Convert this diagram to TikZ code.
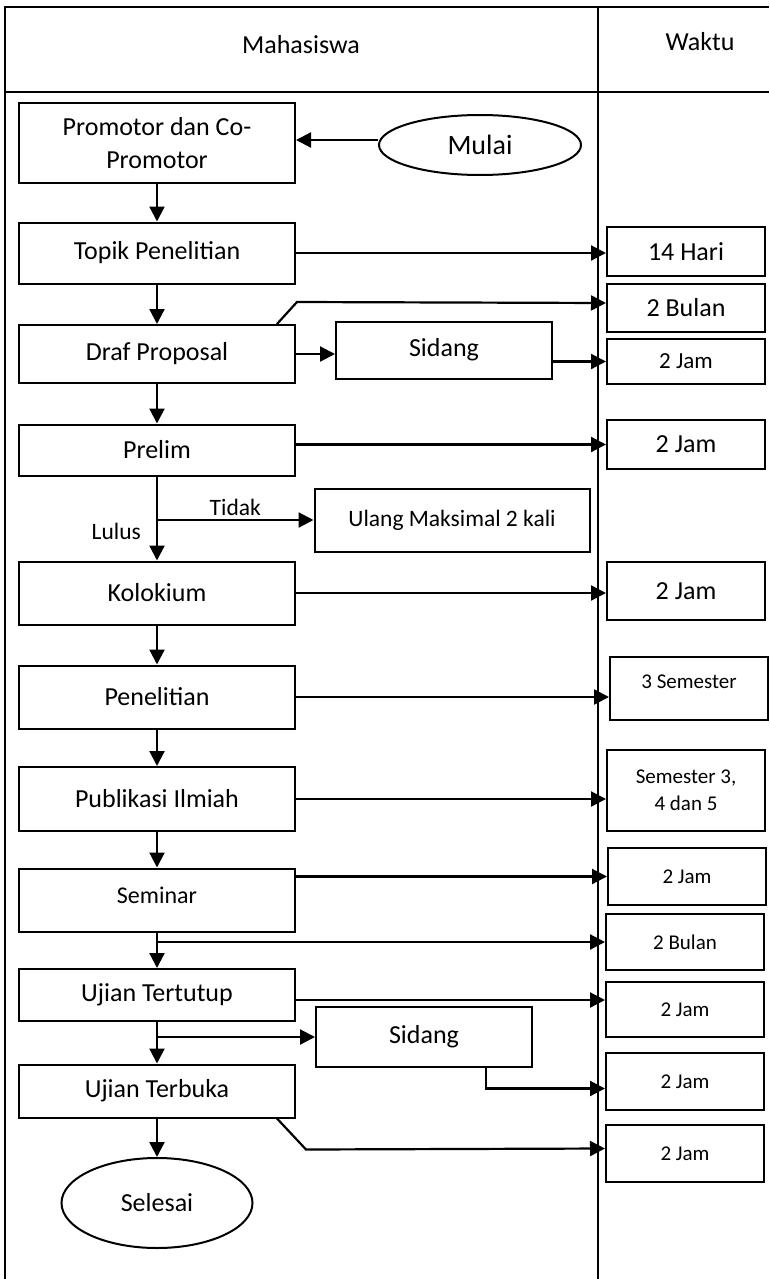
\documentclass[tikz,border=0pt]{standalone}
\usepackage{fontspec}
\setmainfont{Carlito}
\usetikzlibrary{arrows.meta,shapes.geometric}

\begin{document}
\begin{tikzpicture}[
    x=1pt, y=-1pt,
    besar/.style={font=\fontsize{26}{33}\selectfont},
    sedang/.style={font=\fontsize{23.5}{28}\selectfont},
    kecil/.style={font=\fontsize{21}{27}\selectfont},
    proses/.style={rectangle, draw, line width=2pt, inner sep=0pt, minimum width=276pt, align=center, besar},
    waktu/.style={rectangle, draw, line width=2pt, inner sep=0pt, minimum width=158pt, align=center, kecil},
    ujung/.style={ellipse, draw, line width=2pt, inner sep=0pt, besar},
    arrow/.style={draw, -{Triangle[length=15pt,width=15pt]}, line width=2.2pt},
    garis/.style={line width=1.8pt}
]
    \useasboundingbox (0,0) rectangle (769,1279);

    % kolom
    \draw[garis] (5,1279) -- (5,7) -- (769,7);
    \draw[garis] (5,92) -- (769,92);
    \draw[garis] (598,7) -- (598,1279);
    \node[besar] (mahasiswa) at (301,45) {Mahasiswa};
    \node[besar] (waktu) at (700,42) {Waktu};

    % mahasiswa
    \node[proses, minimum height=80pt] (promotor) at (157,143) {Promotor dan Co-\\Promotor};
    \node[ujung, minimum width=202pt, minimum height=60pt, font=\fontsize{28}{33}\selectfont] (mulai) at (480,145) {Mulai};
    \node[proses, minimum height=61pt] (topik) at (157,253) {Topik Penelitian};
    \node[proses, minimum height=58pt] (draf) at (157,354) {Draf Proposal};
    \node[proses, minimum width=216pt, minimum height=57pt] (sidang) at (444,350) {Sidang};
    \node[proses, minimum height=51pt] (prelim) at (157,450) {Prelim};
    \node[proses, minimum width=275pt, minimum height=63pt, sedang] (ulang) at (452,520) {Ulang Maksimal 2 kali};
    \node[proses, minimum height=63pt] (kolokium) at (157,593) {Kolokium};
    \node[proses, minimum height=63pt] (penelitian) at (157,697) {Penelitian};
    \node[proses, minimum height=64pt] (publikasi) at (157,799) {Publikasi Ilmiah};
    \node[proses, minimum height=63pt, text depth=10pt, font=\fontsize{24}{29}\selectfont] (seminar) at (157,900) {Seminar};
    \node[proses, minimum height=52pt] (tertutup) at (157,995) {Ujian Tertutup};
    \node[proses, minimum width=216pt, minimum height=60pt] (sidangb) at (424,1037) {Sidang};
    \node[proses, minimum height=53pt] (terbuka) at (157,1091) {Ujian Terbuka};
    \node[ujung, minimum width=191pt, minimum height=90pt] (selesai) at (157,1203) {Selesai};

    % waktu
    \node[waktu, minimum height=49pt, besar] (w1) at (686,251.5) {14 Hari};
    \node[waktu, minimum height=48pt, besar] (w2) at (686,308) {2 Bulan};
    \node[waktu, minimum height=45pt, font=\fontsize{23}{28}\selectfont] (w3) at (686,361.5) {2 Jam};
    \node[waktu, minimum height=49pt, besar] (w4) at (686,444.5) {2 Jam};
    \node[waktu, minimum height=58pt, besar] (w5) at (686,591) {2 Jam};
    \node[waktu, minimum height=63pt, text depth=13pt] (w6) at (689,688.5) {3 Semester};
    \node[waktu, minimum height=81pt] (w7) at (686,790.5) {Semester 3,\\4 dan 5};
    \node[waktu, minimum height=57pt] (w8) at (687,876.5) {2 Jam};
    \node[waktu, minimum height=56pt] (w9) at (685,942) {2 Bulan};
    \node[waktu, minimum height=55pt] (w10) at (685,1009.5) {2 Jam};
    \node[waktu, minimum height=57pt] (w11) at (685,1081.5) {2 Jam};
    \node[waktu, minimum height=57pt] (w12) at (685,1153.5) {2 Jam};

    % alur
    \draw[arrow] ([yshift=5pt]mulai.west) -- ([yshift=5pt]mulai.west -| promotor.east);
    \draw[arrow] (promotor.south) -- (topik.north);
    \draw[arrow] (topik.east) -- (topik.east -| w1.west);
    \draw[arrow] (topik.south) -- (draf.north);
    \draw[arrow] ([xshift=-19pt]draf.north east) -- ++(20,-22) -- ([yshift=5pt]w2.west);
    \draw[arrow] (draf.east) -- (draf.east -| sidang.west);
    \draw[arrow] (sidang.east |- w3.west) -- (w3.west);
    \draw[arrow] (draf.south) -- (prelim.north);
    \draw[arrow] (prelim.east |- w4.west) -- (w4.west);
    \draw[arrow] (prelim.south) -- (kolokium.north) node[pos=0.65, left, sedang, inner xsep=15pt] {Lulus};
    \draw[arrow] (prelim.south |- ulang.west) -- (ulang.west) node[midway, above, sedang] {Tidak};
    \draw[arrow] (kolokium.east) -- (kolokium.east -| w5.west);
    \draw[arrow] (kolokium.south) -- (penelitian.north);
    \draw[arrow] (penelitian.east) -- (penelitian.east -| w6.west);
    \draw[arrow] (penelitian.south) -- (publikasi.north);
    \draw[arrow] (publikasi.east) -- (publikasi.east -| w7.west);
    \draw[arrow] (publikasi.south) -- (seminar.north);
    \draw[arrow] (seminar.east |- w8.west) -- (w8.west);
    \draw[arrow] (seminar.south) -- (tertutup.north);
    \draw[arrow] (seminar.south |- w9.west) -- (w9.west);
    \draw[arrow] ([yshift=-5pt]tertutup.east) -- ([yshift=-5pt]tertutup.east -| w10.west);
    \draw[arrow] (tertutup.south) -- (terbuka.north);
    \draw[arrow] (tertutup.south |- sidangb.west) -- (sidangb.west);
    \draw[arrow] ([xshift=62pt]sidangb.south) |- ([yshift=-7pt]w11.west);
    \draw[arrow] ([xshift=-19pt]terbuka.south east) -- ++(29,31) -- ([yshift=5pt]w12.west);
    \draw[arrow] (terbuka.south) -- (selesai.north);
\end{tikzpicture}
\end{document}
